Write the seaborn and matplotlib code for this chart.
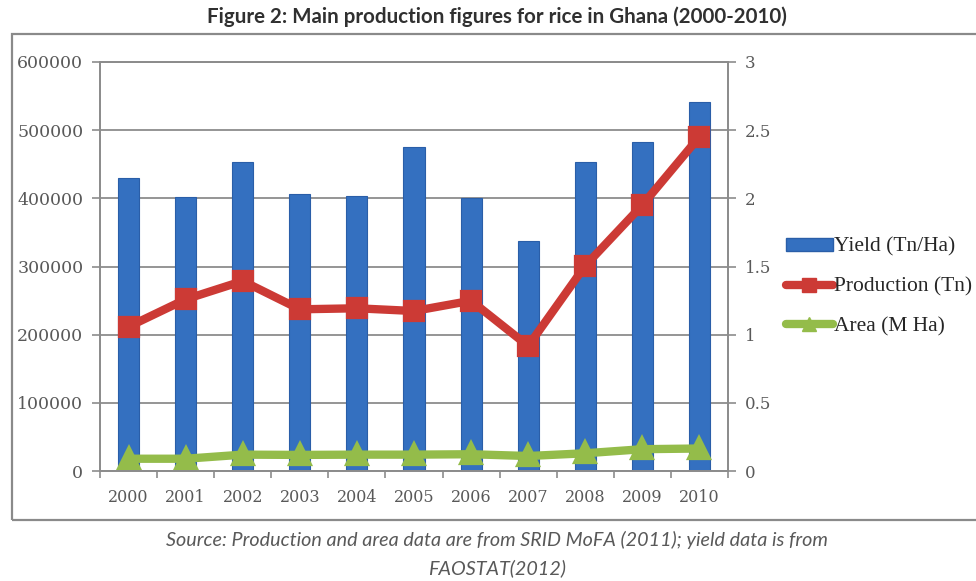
import matplotlib
matplotlib.use("Agg")
import matplotlib.pyplot as plt
import seaborn as sns
import numpy as np
import pandas as pd
from matplotlib.lines import Line2D
from matplotlib.patches import Patch, Rectangle

# ---- data ----
years = ["2000", "2001", "2002", "2003", "2004", "2005", "2006", "2007", "2008", "2009", "2010"]
yield_tn_ha = [2.15, 2.01, 2.27, 2.03, 2.02, 2.38, 2.00, 1.69, 2.27, 2.41, 2.71]
production_tn = [211700, 251900, 278700, 237200, 238700, 234700, 249800, 183400, 301200, 390200, 490400]
area_m_ha = [0.090, 0.090, 0.120, 0.118, 0.120, 0.120, 0.123, 0.110, 0.130, 0.160, 0.165]
left_ticks = [0, 100000, 200000, 300000, 400000, 500000, 600000]
right_ticks = [0, 0.5, 1, 1.5, 2, 2.5, 3]
right_ticklabels = ["0", "0.5", "1", "1.5", "2", "2.5", "3"]
series_labels = ["Yield (Tn/Ha)", "Production (Tn)", "Area (M Ha)"]
title = "Figure 2: Main production figures for rice in Ghana (2000-2010)"
source_lines = ["Source: Production and area data are from SRID MoFA (2011); yield data is from",
                "FAOSTAT(2012)"]

BAR = "#3470c0"
BAR_EDGE = "#2a5ea8"
RED = "#cc3a35"
GREEN = "#94bc4a"
GRID = "#8c8c8c"
TICKC = "#595959"

sns.set_theme(style="white")
plt.rcParams['font.family'] = ['DejaVu Serif', 'DejaVu Sans']

df = pd.DataFrame({"year": years, "yield": yield_tn_ha,
                   "production": production_tn, "area": area_m_ha})

W, H = 976, 581
fig = plt.figure(figsize=(W / 100, H / 100), dpi=100)
fig.patch.set_facecolor("white")

L, R, T, B = 100, 728, 62, 471
ax = fig.add_axes([L / W, 1 - B / H, (R - L) / W, (B - T) / H])

# right-scale series (primary axes so the production line is drawn above the bars)
sns.barplot(data=df, x="year", y="yield", ax=ax, color=BAR, saturation=1,
            width=0.37, zorder=2, edgecolor=BAR_EDGE, linewidth=0.8)
sns.pointplot(data=df, x="year", y="area", ax=ax, color=GREEN, markers="^",
              markersize=11, linewidth=6, zorder=4)
ax.set_ylim(0, 3)
ax.set_yticks(right_ticks)
ax.set_yticklabels(right_ticklabels)
ax.yaxis.tick_right()
ax.yaxis.set_label_position("right")
ax.yaxis.grid(True, color=GRID, lw=1.3)
ax.set_axisbelow(True)
ax.set_xlim(-0.5, 10.5)
ax.set_xlabel("")
ax.set_ylabel("")

axp = ax.twinx()
sns.pointplot(data=df, x="year", y="production", ax=axp, color=RED, markers="s",
              markersize=11, linewidth=6, zorder=5)
axp.set_ylim(0, 600000)
axp.set_yticks(left_ticks)
axp.set_yticklabels([str(v) for v in left_ticks])
axp.yaxis.tick_left()
axp.yaxis.set_label_position("left")
axp.set_xlim(-0.5, 10.5)
axp.set_xlabel("")
axp.set_ylabel("")
axp.grid(False)

# x ticks: labels at centers, tick marks between categories
ax.set_xticks(range(len(years)))
ax.set_xticklabels(years)
ax.set_xticks(np.arange(-0.5, len(years), 1.0), minor=True)
ax.tick_params(axis="x", which="major", length=0, pad=13, labelsize=11.5, labelcolor=TICKC)
ax.tick_params(axis="x", which="minor", length=5, width=1.2, color=GRID, direction="out", bottom=True)
ax.tick_params(axis="y", which="major", length=6, width=1.2, color=GRID, direction="out",
               right=True, left=False, labelright=True, labelleft=False, pad=6,
               labelsize=12, labelcolor=TICKC)
axp.tick_params(axis="y", which="major", length=6, width=1.2, color=GRID, direction="out",
                left=True, right=False, labelleft=True, labelright=False, pad=6,
                labelsize=12.5, labelcolor=TICKC)

for a in (ax, axp):
    for s in a.spines.values():
        s.set_color(GRID)
        s.set_linewidth(1.3)

# legend
handles = [Patch(facecolor=BAR, edgecolor=BAR_EDGE),
           Line2D([], [], color=RED, lw=6, marker="s", markersize=10),
           Line2D([], [], color=GREEN, lw=6, marker="^", markersize=10)]
fig.legend(handles, series_labels, loc="upper left",
           bbox_to_anchor=(777 / W, 1 - 229 / H), frameon=False,
           prop={"family": "Liberation Serif", "size": 15.5},
           handlelength=2.2, handleheight=0.55, handletextpad=0.05,
           labelspacing=0.95, borderaxespad=0, labelcolor="#262626")

# outer frame
fig.patches.append(Rectangle((12 / W, 1 - 520 / H), 1.2, (520 - 34) / H,
                             transform=fig.transFigure, fill=False,
                             edgecolor="#8a8a8a", lw=1.6, zorder=0))

fig.text(497 / W, 1 - 17 / H, title, ha="center", va="center",
         family="Lato", weight="bold", fontsize=14.8, color="#303030")
fig.text(497 / W, 1 - 540 / H, source_lines[0], ha="center", va="center",
         family="Lato", style="italic", fontsize=14.2, color="#595959")
fig.text(497 / W, 1 - 568 / H, source_lines[1], ha="center", va="center",
         family="Lato", style="italic", fontsize=14.2, color="#595959")

fig.savefig("out.png", dpi=100)
